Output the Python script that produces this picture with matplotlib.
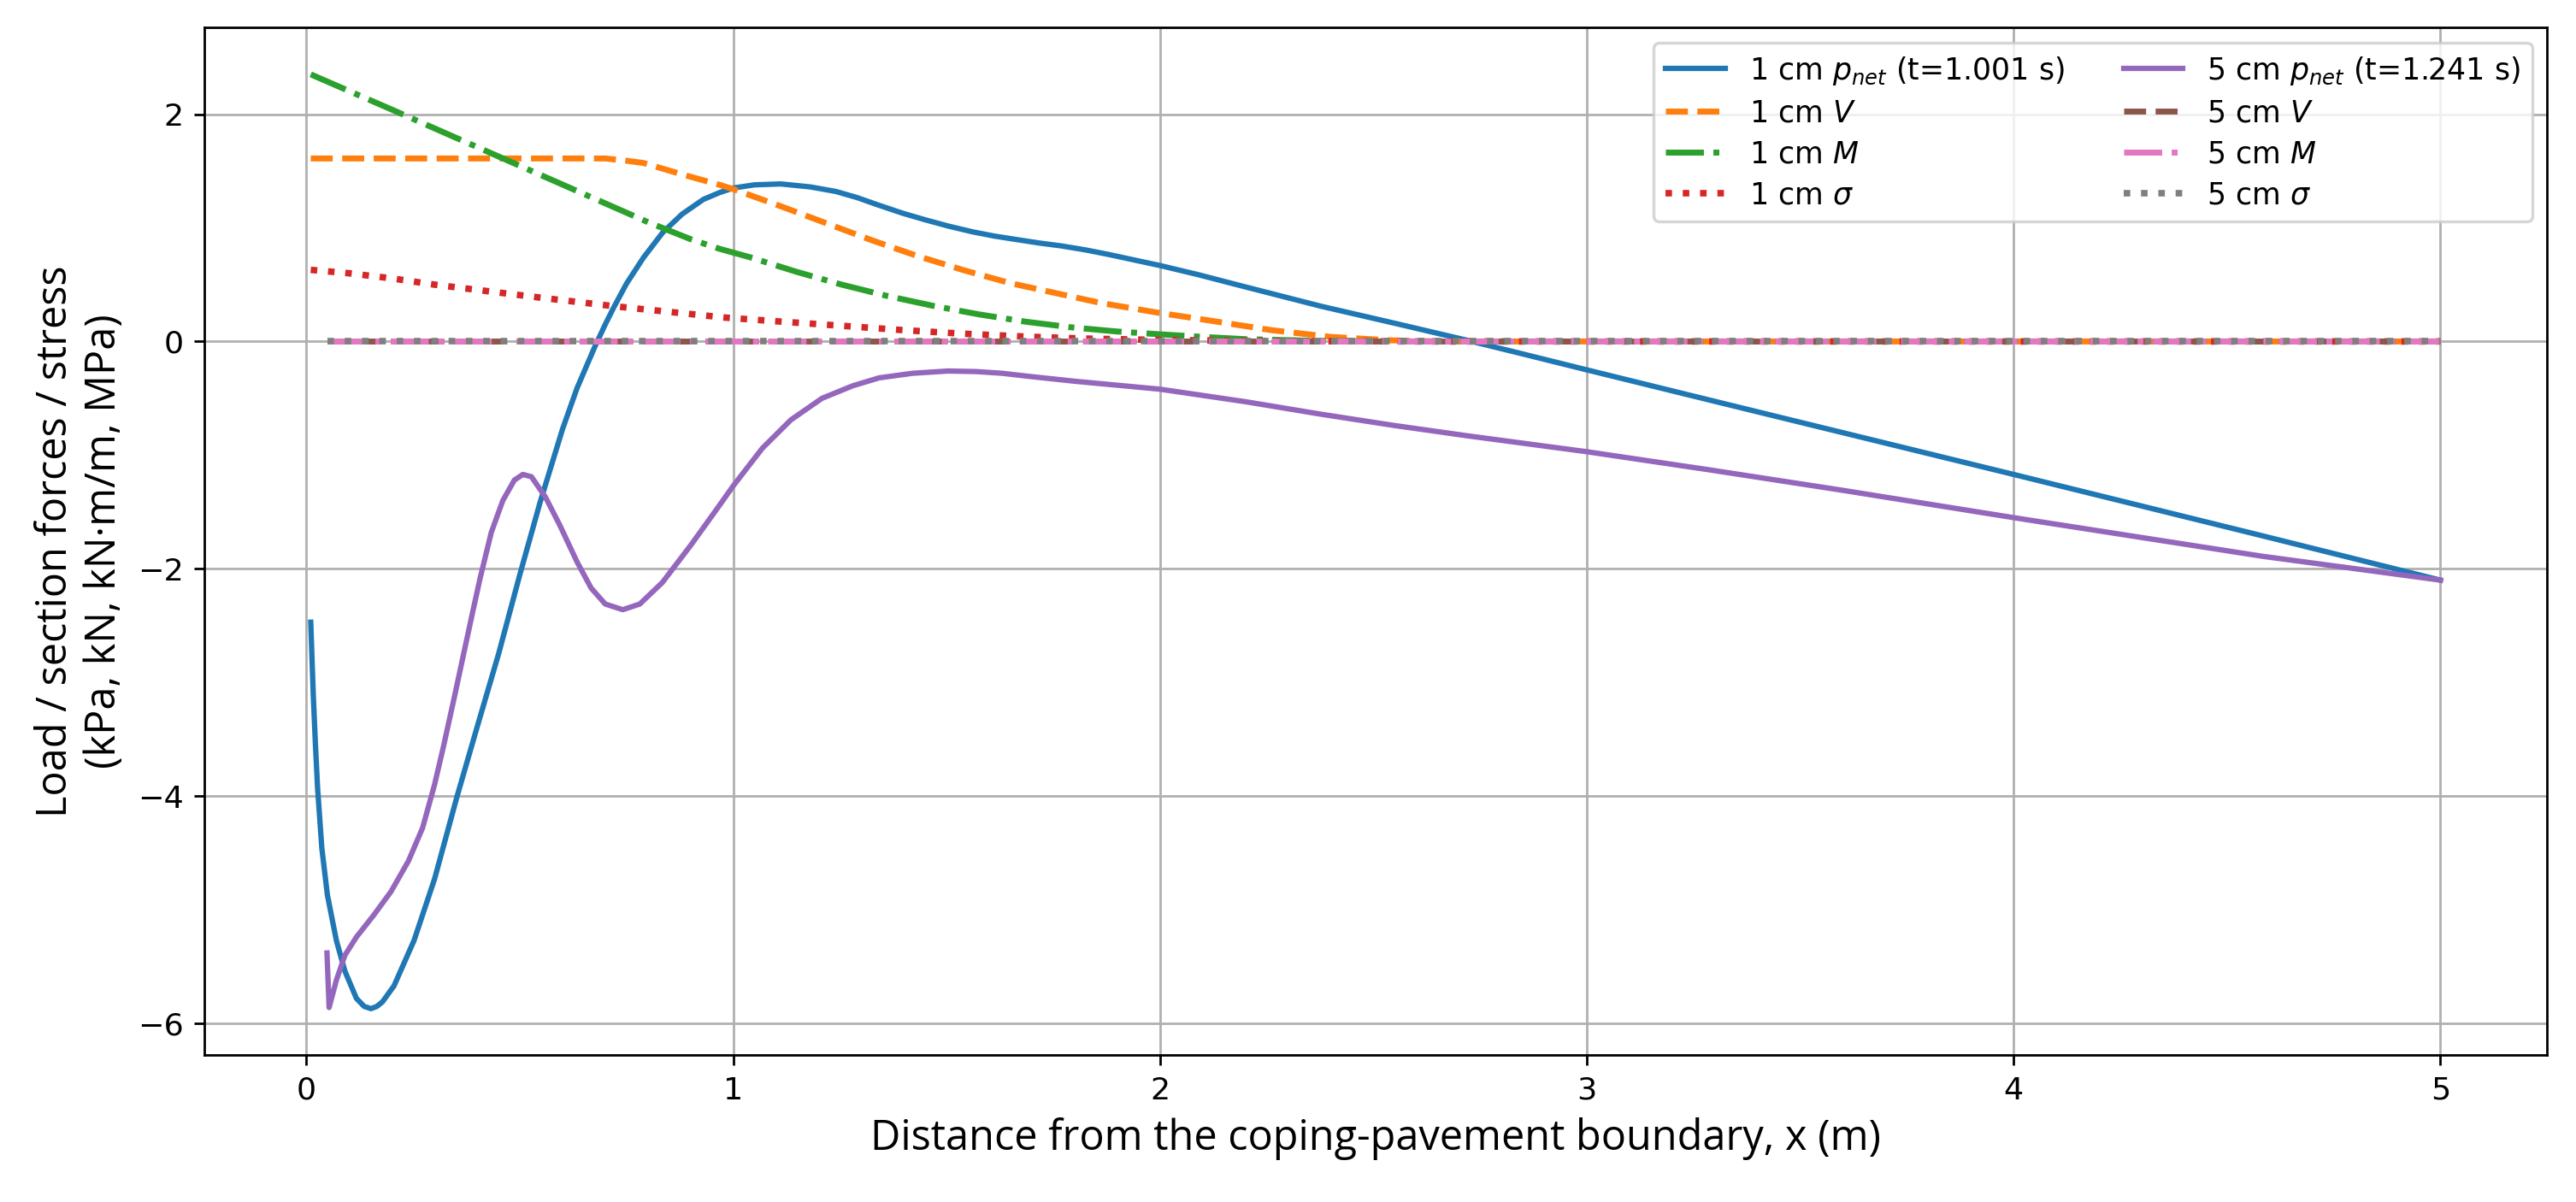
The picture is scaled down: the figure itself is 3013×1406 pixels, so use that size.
import matplotlib
matplotlib.use("Agg")
import matplotlib.pyplot as plt

# 1 cm case (t = 1.001 s)
x_p1 = [0.01, 0.013, 0.016, 0.021, 0.026, 0.036, 0.049, 0.07, 0.09, 0.117, 0.135, 0.151,
        0.165, 0.178, 0.205, 0.252, 0.30, 0.353, 0.40, 0.45, 0.50, 0.547, 0.60, 0.634,
        0.674, 0.70, 0.72, 0.75, 0.79, 0.835, 0.88, 0.93, 0.968, 1.0, 1.05, 1.111, 1.18,
        1.24, 1.29, 1.34, 1.397, 1.45, 1.504, 1.56, 1.612, 1.67, 1.719, 1.77, 1.826,
        1.88, 1.933, 2.0, 2.089, 2.2, 2.377, 2.55, 2.72, 2.85, 3.0, 3.288, 3.488, 4.0,
        4.583, 5.0]
p1 = [-2.47, -2.8, -3.12, -3.55, -3.93, -4.46, -4.87, -5.27, -5.54, -5.78, -5.85, -5.87,
      -5.85, -5.81, -5.67, -5.27, -4.73, -4.0, -3.39, -2.75, -2.05, -1.42, -0.77, -0.41,
      -0.06, 0.15, 0.30, 0.51, 0.74, 0.96, 1.12, 1.25, 1.31, 1.35, 1.378, 1.386, 1.36,
      1.32, 1.266, 1.2, 1.128, 1.07, 1.015, 0.965, 0.927, 0.893, 0.865, 0.84, 0.805,
      0.765, 0.722, 0.668, 0.588, 0.48, 0.31, 0.16, 0.01, -0.11, -0.25, -0.516, -0.70,
      -1.17, -1.71, -2.10]

x_v1 = [0.01, 0.7, 0.75, 0.79, 0.88, 0.968, 1.0, 1.111, 1.218, 1.325, 1.433, 1.54, 1.648,
        1.755, 1.862, 2.0, 2.089, 2.26, 2.4, 2.54, 2.65, 5.0]
v1 = [1.61, 1.61, 1.59, 1.57, 1.47, 1.378, 1.34, 1.19, 1.04, 0.89, 0.75, 0.627, 0.514,
      0.426, 0.338, 0.25, 0.2, 0.1, 0.04, 0.01, 0.0, 0.0]

x_m1 = [0.01, 0.2, 0.4, 0.6, 0.8, 0.9, 0.968, 1.04, 1.147, 1.254, 1.361, 1.469, 1.576,
        1.683, 1.79, 1.898, 2.0, 2.1, 2.2, 2.35, 2.5, 5.0]
m1 = [2.35, 2.04, 1.71, 1.38, 1.05, 0.90, 0.815, 0.74, 0.614, 0.50, 0.40, 0.313, 0.238,
      0.175, 0.125, 0.088, 0.063, 0.04, 0.02, 0.007, 0.0, 0.0]

x_s1 = [0.01, 0.1, 0.2, 0.3, 0.547, 0.721, 0.981, 1.111, 1.254, 1.397, 1.54, 1.683,
        1.826, 2.0, 2.3, 2.6, 5.0]
s1 = [0.63, 0.60, 0.555, 0.50, 0.386, 0.31, 0.21, 0.175, 0.138, 0.10, 0.068, 0.043,
      0.025, 0.013, 0.003, 0.0, 0.0]

# 5 cm case (t = 1.241 s)
x_p5 = [0.048, 0.053, 0.07, 0.09, 0.117, 0.157, 0.198, 0.239, 0.272, 0.30, 0.32, 0.347,
        0.367, 0.39, 0.407, 0.433, 0.46, 0.487, 0.507, 0.527, 0.56, 0.594, 0.634, 0.667,
        0.70, 0.741, 0.781, 0.834, 0.901, 0.968, 1.0, 1.068, 1.135, 1.208, 1.28, 1.342,
        1.42, 1.503, 1.57, 1.63, 1.7, 1.8, 1.9, 2.0, 2.2, 2.377, 2.55, 2.72, 3.0, 3.288,
        3.6, 4.0, 4.583, 5.0]
p5 = [-5.38, -5.86, -5.62, -5.40, -5.24, -5.05, -4.84, -4.57, -4.28, -3.90, -3.58, -3.12,
      -2.77, -2.37, -2.08, -1.68, -1.40, -1.22, -1.17, -1.19, -1.37, -1.62, -1.94, -2.17,
      -2.31, -2.36, -2.31, -2.12, -1.79, -1.44, -1.27, -0.94, -0.69, -0.50, -0.39, -0.32,
      -0.28, -0.26, -0.265, -0.28, -0.31, -0.35, -0.385, -0.42, -0.53, -0.64, -0.74,
      -0.83, -0.97, -1.13, -1.31, -1.55, -1.89, -2.10]

x_flat5 = [0.05, 5.0]
v5 = [0.0, 0.0]
m5 = [0.0, 0.0]
s5 = [0.0, 0.0]

label_font = ["Open Sans", "DejaVu Sans"]

fig = plt.figure(figsize=(3013 / 250, 1406 / 250), dpi=250)
ax = fig.add_axes([0.0793, 0.122, 0.9094, 0.855])

ax.plot(x_p1, p1, color="C0", lw=1.8, label=r"1 cm $p_{net}$ (t=1.001 s)")
ax.plot(x_v1, v1, color="C1", lw=2, ls="--", label=r"1 cm $V$")
ax.plot(x_m1, m1, color="C2", lw=2, ls="-.", label=r"1 cm $M$")
ax.plot(x_s1, s1, color="C3", lw=2.2, ls=":", label=r"1 cm $\sigma$")
ax.plot(x_p5, p5, color="C4", lw=1.8, label=r"5 cm $p_{net}$ (t=1.241 s)")
ax.plot(x_flat5, v5, color="C5", lw=2, ls="--", label=r"5 cm $V$")
ax.plot(x_flat5, m5, color="C6", lw=2, ls="-.", label=r"5 cm $M$")
ax.plot(x_flat5, s5, color="C7", lw=2.2, ls=":", label=r"5 cm $\sigma$")

ax.grid(True)
ax.tick_params(labelsize=10.5)
ax.set_xlabel("Distance from the coping-pavement boundary, x (m)",
              fontsize=14, family=label_font)
ax.set_ylabel("Load / section forces / stress\n(kPa, kN, kN·m/m, MPa)",
              fontsize=14, family=label_font)
ax.legend(ncol=2, loc="upper right", fontsize=10, labelspacing=0.4)

fig.savefig("out.png", dpi=250)
